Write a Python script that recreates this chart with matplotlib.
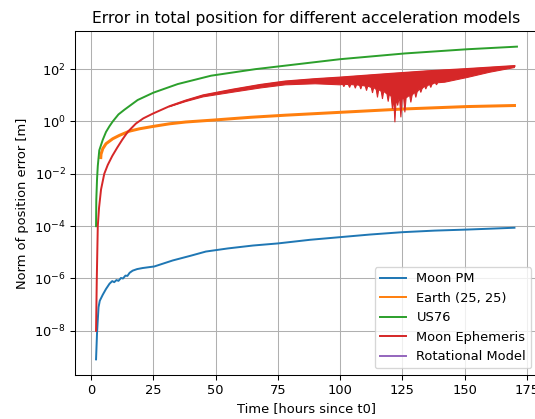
import numpy as np
import matplotlib
matplotlib.use("Agg")
import matplotlib.pyplot as plt

# values, stored as log10 of the error in metres
moon_pm_t = [2.0, 2.4, 2.7, 3.0, 3.5, 4.7, 6.0, 7.4, 8.5, 9.3, 10.2, 11.0, 12.0, 12.8,
             13.8, 14.6, 15.5, 16.7, 18.5, 20.7, 25.4, 32.8, 40, 46.1, 55, 65, 75, 88,
             100, 112, 125, 138, 151, 162, 170]
moon_pm_log = [-9.09, -8.07, -7.57, -7.1, -6.85, -6.62, -6.40, -6.20, -6.10, -6.14, -6.06,
               -6.09, -5.98, -6.00, -5.89, -5.90, -5.78, -5.70, -5.64, -5.60, -5.54, -5.31,
               -5.13, -4.97, -4.85, -4.74, -4.66, -4.52, -4.42, -4.32, -4.23, -4.17, -4.13,
               -4.09, -4.06]

earth_t = [3.9, 4.0, 4.7, 6, 8.7, 11.4, 15.4, 19.4, 24.8, 31.4, 38, 50, 64, 78, 100, 126, 151, 170]
earth_log = [-1.38, -1.25, -1.04, -0.85, -0.66, -0.53, -0.37, -0.28, -0.19, -0.09, -0.02,
             0.06, 0.16, 0.24, 0.35, 0.48, 0.57, 0.61]

us76_t = [2.0, 2.1, 2.4, 2.7, 3.3, 4.7, 6.0, 7.4, 8.7, 11, 13.4, 18.7, 25, 34.8, 48.2,
          66, 100, 126, 151, 171]
us76_log = [-4.0, -3.0, -2.2, -1.7, -1.1, -0.7, -0.4, -0.18, 0.0, 0.27, 0.45, 0.82, 1.1,
            1.43, 1.75, 2.0, 2.38, 2.60, 2.76, 2.86]

ephem_t = [2.0, 2.3, 2.7, 3.2, 4.0, 5.3, 6.7, 8.5, 10.5, 12.5, 14.7, 18, 21, 24.8, 31.4,
           38, 45, 57, 68, 78, 90, 100, 110, 120, 126, 135, 150, 160, 170]
ephem_log = [-8.0, -6.0, -4.0, -3.3, -2.6, -2.0, -1.66, -1.32, -1.0, -0.7, -0.4, -0.08,
             0.12, 0.3, 0.58, 0.8, 1.0, 1.22, 1.4, 1.53, 1.62, 1.68, 1.75, 1.82, 1.86,
             1.92, 2.0, 2.06, 2.12]

# lower edge of the oscillating Moon Ephemeris band
ephem_lo_t = [31.4, 38, 45, 57, 68, 78, 90, 100]
ephem_lo_log = [0.56, 0.76, 0.94, 1.12, 1.28, 1.40, 1.44, 1.40]
ephem_lo_end_t = [142, 151, 160, 170]
ephem_lo_end_log = [1.50, 1.68, 1.88, 2.06]
teeth_t = [101.5, 103.8, 106.1, 108.3, 110.6, 113.0, 115.0, 117.0, 119.3, 121.0, 122.0,
           123.1, 124.4, 126.0, 128.4, 130.4, 132.4, 134.4, 136.4, 138.7]
teeth_lo = [1.33, 1.30, 1.27, 1.24, 1.18, 1.09, 0.92, 0.86, 0.76, 0.48, -0.03, 0.61, 0.16,
            0.35, 0.73, 0.92, 1.11, 1.24, 1.30, 1.40]
teeth_base = [1.42, 1.41, 1.40, 1.38, 1.35, 1.30, 1.22, 1.15, 1.05, 0.95, 0.85, 0.85, 0.85,
              0.9, 1.0, 1.12, 1.25, 1.35, 1.42, 1.48]

fig = plt.figure(figsize=(535 / 94, 419 / 94), dpi=94)
ax = fig.add_axes([75 / 535, 44 / 419, 463 / 535, 344 / 419])

ax.semilogy(moon_pm_t, 10.0 ** np.array(moon_pm_log), color="C0", label="Moon PM")
ax.semilogy(earth_t, 10.0 ** np.array(earth_log), color="C1", lw=2.3, label="Earth (25, 25)")
ax.semilogy(us76_t, 10.0 ** np.array(us76_log), color="C2", label="US76")
ax.semilogy(ephem_t, 10.0 ** np.array(ephem_log), color="C3", label="Moon Ephemeris")
ax.semilogy([], [], color="C4", label="Rotational Model")

# band: upper edge forward, lower edge (with teeth) backward
lo_t = list(ephem_lo_t)
lo_v = list(ephem_lo_log)
for tt, lo, base in zip(teeth_t, teeth_lo, teeth_base):
    lo_t += [tt - 0.5, tt, tt + 0.5]
    lo_v += [base, lo, base]
lo_t += ephem_lo_end_t
lo_v += ephem_lo_end_log
up_t = [t for t in ephem_t if t >= 31.4]
up_v = [v for t, v in zip(ephem_t, ephem_log) if t >= 31.4]
poly_t = np.concatenate([up_t, lo_t[::-1]])
poly_v = np.concatenate([up_v, lo_v[::-1]])
ax.fill(poly_t, 10.0 ** poly_v, color="C3", lw=0.8, zorder=2)

ax.set_title("Error in total position for different acceleration models")
ax.set_xlabel("Time [hours since t0]")
ax.set_ylabel("Norm of position error [m]")
ax.grid(True)
leg = ax.legend(loc="lower right")
for line in leg.get_lines():
    line.set_linewidth(1.5)

fig.savefig("out.png", dpi=94)
